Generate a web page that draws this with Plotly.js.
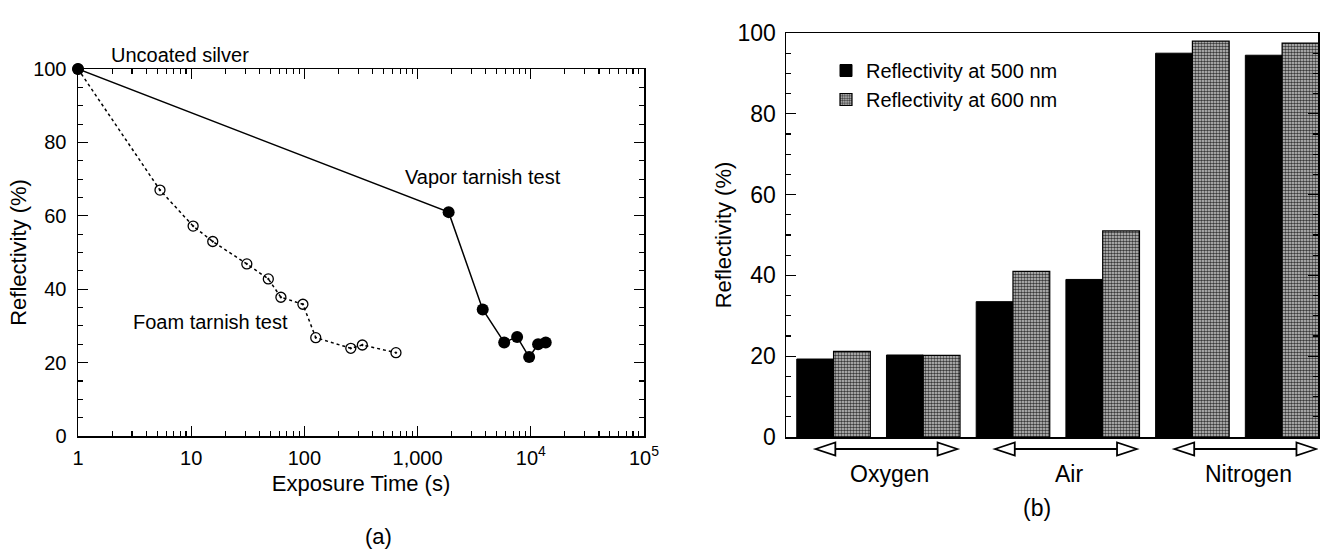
<!DOCTYPE html>
<html><head><meta charset="utf-8">
<script src="https://cdn.plot.ly/plotly-3.0.1.min.js"></script>
<style>html,body{margin:0;padding:0;background:#fff}#chart{width:1322px;height:551px}</style>
</head><body><div id="chart"></div>
<script>
// ---- Panel (a): reflectivity vs exposure time ----
const foamTime  = [1, 5.3, 10.4, 15.5, 31, 48, 62, 97, 126, 257, 325, 644];
const foamRefl  = [100, 67, 57.2, 53, 46.9, 42.8, 37.8, 35.9, 26.8, 23.9, 24.8, 22.7];
const vaporTime = [1, 1880, 3760, 5820, 7570, 9670, 11600, 13550];
const vaporRefl = [100, 61, 34.5, 25.5, 27, 21.5, 25, 25.5];
const timeTickVals = [1, 10, 100, 1000, 10000, 100000];
const timeTickText = ['1', '10', '100', '1,000', '10<sup>4</sup>', '10<sup>5</sup>'];

// ---- Panel (b): reflectivity by gas ----
const sampleIndex = [0, 1, 2, 3, 4, 5];
const sampleGas   = ['Oxygen', 'Oxygen', 'Air', 'Air', 'Nitrogen', 'Nitrogen'];
const gasGroups   = ['Oxygen', 'Air', 'Nitrogen'];
const refl500 = [19.3, 20.3, 33.5, 39, 95, 94.5];
const refl600 = [21.2, 20.2, 41, 51, 98, 97.5];
const reflTickVals = [0, 20, 40, 60, 80, 100];

const FONT = 'Liberation Sans, Arial, Helvetica, sans-serif';
const W = 1322, H = 551;
const px = v => v / W, py = v => (H - v) / H;
const txt = (size) => ({family: FONT, size: size, color: '#000'});

const minorLog = [];
for (let d = 0; d < 5; d++) for (let k = 2; k <= 9; k++) minorLog.push(k * Math.pow(10, d));

const traces = [
  {x: foamTime, y: foamRefl, xaxis: 'x', yaxis: 'y', mode: 'lines+markers', type: 'scatter',
   name: 'Foam tarnish test', showlegend: false, cliponaxis: false,
   line: {color: '#000', width: 1.5, dash: 'dot'},
   marker: {symbol: 'circle-open-dot', size: 10, color: '#000', line: {width: 1.3, color: '#000'}}},
  {x: vaporTime, y: vaporRefl, xaxis: 'x', yaxis: 'y', mode: 'lines+markers', type: 'scatter',
   name: 'Vapor tarnish test', showlegend: false, cliponaxis: false,
   line: {color: '#000', width: 1.5},
   marker: {symbol: 'circle', size: 12, color: '#000'}},
  {x: sampleIndex, y: refl500, xaxis: 'x2', yaxis: 'y2', type: 'bar', name: 'Reflectivity at 500 nm',
   customdata: sampleGas, hovertemplate: '%{customdata}: %{y}%<extra></extra>',
   marker: {color: '#000', line: {color: '#000', width: 1}}},
  {x: sampleIndex, y: refl600, xaxis: 'x2', yaxis: 'y2', type: 'bar', name: 'Reflectivity at 600 nm',
   customdata: sampleGas, hovertemplate: '%{customdata}: %{y}%<extra></extra>',
   marker: {color: '#c4c4c4', line: {color: '#000', width: 1.2},
            pattern: {shape: '.', fgcolor: '#3a3a3a', bgcolor: '#cdcdcd', size: 3, solidity: 0.55}}}
];

const axisCommon = {
  showline: true, linecolor: '#000', linewidth: 1.5, mirror: 'allticks',
  ticks: 'inside', ticklen: 10, tickwidth: 1.3, tickcolor: '#000',
  showgrid: false, zeroline: false, fixedrange: true,
  tickfont: txt(20)
};

// double arrows under the gas groups
const shapes = [], annotations = [];
const arrowY = py(449), headL = 0.22, headH = 6.5 / H;
gasGroups.forEach(g => {
  const idx = sampleIndex.filter((i, k) => sampleGas[k] === g);
  const xs = Math.min(...idx) - 0.2, xe = Math.max(...idx) + 0.38;
  shapes.push({type: 'line', xref: 'x2', yref: 'paper', x0: xs + headL, x1: xe - headL, y0: arrowY, y1: arrowY,
               line: {color: '#000', width: 1.8}});
  shapes.push({type: 'path', xref: 'x2', yref: 'paper', fillcolor: '#fff', line: {color: '#000', width: 1.8},
               path: `M${xs},${arrowY} L${xs + headL},${arrowY + headH} L${xs + headL},${arrowY - headH} Z`});
  shapes.push({type: 'path', xref: 'x2', yref: 'paper', fillcolor: '#fff', line: {color: '#000', width: 1.8},
               path: `M${xe},${arrowY} L${xe - headL},${arrowY + headH} L${xe - headL},${arrowY - headH} Z`});
  annotations.push({xref: 'x2', yref: 'paper', x: (Math.min(...idx) + Math.max(...idx)) / 2 + 0.12, y: py(474),
                    xanchor: 'center', yanchor: 'middle', text: g, showarrow: false, font: txt(23)});
});

annotations.push(
  {xref: 'x', yref: 'paper', x: 0.9, y: py(55), xanchor: 'center', yanchor: 'middle',
   text: 'Uncoated silver', showarrow: false, font: txt(20)},
  {xref: 'x', yref: 'y', x: 3.58, y: 70.5, xanchor: 'center', yanchor: 'middle',
   text: 'Vapor tarnish test', showarrow: false, font: txt(20)},
  {xref: 'x', yref: 'y', x: 1.17, y: 31, xanchor: 'center', yanchor: 'middle',
   text: 'Foam tarnish test', showarrow: false, font: txt(20)},
  {xref: 'paper', yref: 'paper', x: px(378), y: py(536), xanchor: 'center', yanchor: 'middle',
   text: '(a)', showarrow: false, font: txt(22)},
  {xref: 'paper', yref: 'paper', x: px(1037), y: py(508), xanchor: 'center', yanchor: 'middle',
   text: '(b)', showarrow: false, font: txt(23)}
);

const layout = {
  width: W, height: H, margin: {l: 0, r: 0, t: 0, b: 0},
  paper_bgcolor: '#fff', plot_bgcolor: '#fff',
  font: {family: FONT, color: '#000'},
  barmode: 'group', bargap: 0.18, bargroupgap: 0,
  xaxis: Object.assign({}, axisCommon, {
    type: 'log', range: [0, 5], domain: [px(78), px(644)], anchor: 'y',
    tickmode: 'array', tickvals: timeTickVals, ticktext: timeTickText, ticklabelstandoff: 3,
    minor: {tickmode: 'array', tickvals: minorLog, ticks: 'inside', ticklen: 5, tickwidth: 1.1, tickcolor: '#000'},
    title: {text: 'Exposure Time (s)', font: txt(22), standoff: 8}
  }),
  yaxis: Object.assign({}, axisCommon, {
    range: [0, 100], domain: [py(436), py(69)], anchor: 'x',
    tickmode: 'array', tickvals: reflTickVals, ticklabelstandoff: 6,
    minor: {dtick: 5, ticks: 'inside', ticklen: 5, tickwidth: 1.1, tickcolor: '#000'},
    title: {text: 'Reflectivity (%)', font: txt(22), standoff: 0}
  }),
  xaxis2: Object.assign({}, axisCommon, {
    range: [-0.53, 5.4], domain: [px(786), px(1318)], anchor: 'y2',
    showticklabels: false, ticks: '', mirror: true
  }),
  yaxis2: Object.assign({}, axisCommon, {
    range: [0, 100], domain: [py(437), py(33)], anchor: 'x2',
    tickmode: 'array', tickvals: reflTickVals, ticklabelstandoff: 4, tickfont: txt(23),
    minor: {dtick: 5, ticks: 'inside', ticklen: 5, tickwidth: 1.1, tickcolor: '#000'},
    title: {text: 'Reflectivity (%)', font: txt(22), standoff: 0}
  }),
  legend: {x: px(826), y: py(51), xanchor: 'left', yanchor: 'top', bgcolor: 'rgba(0,0,0,0)',
           font: txt(20), tracegroupgap: 0, itemwidth: 30},
  shapes: shapes, annotations: annotations
};

Plotly.newPlot('chart', traces, layout, {displayModeBar: false, staticPlot: true});
</script>
</body></html>
